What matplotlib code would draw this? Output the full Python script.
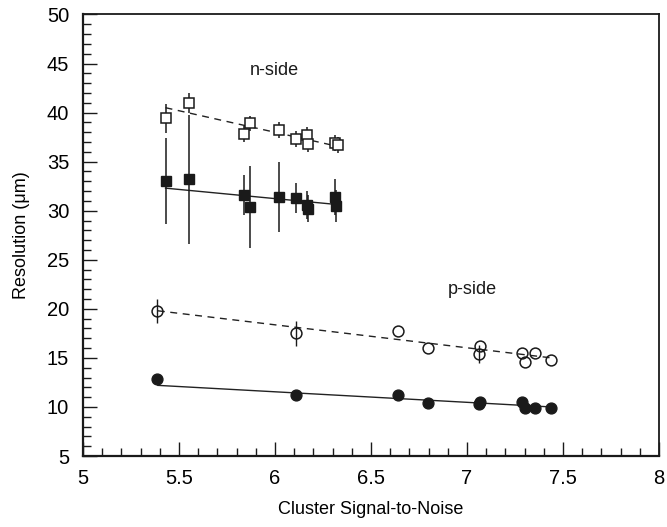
# Resolution vs cluster signal-to-noise, n-side and p-side
import matplotlib.pyplot as plt
from matplotlib.ticker import MultipleLocator

plt.rcParams['font.family'] = ['Liberation Sans', 'DejaVu Sans']

# n-side, open squares
n_open_x = [5.43, 5.55, 5.87, 5.84, 6.02, 6.11, 6.165, 6.17, 6.315, 6.33]
n_open_y = [39.4, 41.0, 38.9, 37.8, 38.2, 37.3, 37.7, 36.8, 36.9, 36.7]
n_open_err = [1.5, 1.0, 0.8, 0.8, 0.8, 0.8, 0.8, 0.8, 0.8, 0.8]

# n-side, filled squares
n_full_x = [5.43, 5.55, 5.84, 5.87, 6.02, 6.11, 6.165, 6.17, 6.31, 6.32]
n_full_y = [33.0, 33.2, 31.6, 30.4, 31.4, 31.3, 30.6, 30.2, 31.4, 30.5]
n_full_err = [4.4, 6.6, 2.0, 4.2, 3.6, 1.5, 1.4, 1.4, 1.8, 1.6]

# p-side, open circles
p_open_x = [5.385, 6.107, 6.64, 6.795, 7.068, 7.06, 7.288, 7.30, 7.354, 7.437]
p_open_y = [19.8, 17.5, 17.7, 16.0, 16.2, 15.4, 15.5, 14.6, 15.5, 14.8]
p_open_err = [1.2, 1.3, 0.0, 0.0, 0.0, 0.9, 0.0, 0.0, 0.0, 0.0]

# p-side, filled circles
p_full_x = [5.385, 6.107, 6.64, 6.795, 7.063, 7.068, 7.285, 7.30, 7.354, 7.437]
p_full_y = [12.85, 11.2, 11.2, 10.4, 10.3, 10.5, 10.5, 9.85, 9.85, 9.9]

# linear fits (end points)
fit_n_x = [5.43, 6.34]
fit_n_open = [40.5, 36.5]
fit_n_full = [32.3, 30.6]
fit_p_x = [5.39, 7.44]
fit_p_open = [19.8, 15.0]
fit_p_full = [12.2, 10.0]

fig = plt.figure(figsize=(6.67, 5.27), dpi=100)
ax = fig.add_axes([0.1244, 0.1347, 0.8636, 0.8378])

# fit lines
ax.plot(fit_n_x, fit_n_open, color='#222222', lw=1.0, ls=(0, (5, 4)))
ax.plot(fit_n_x, fit_n_full, color='#222222', lw=1.0)
ax.plot(fit_p_x, fit_p_open, color='#222222', lw=1.0, ls=(0, (5, 4)))
ax.plot(fit_p_x, fit_p_full, color='#222222', lw=1.0)

# data with error bars
ax.errorbar(n_full_x, n_full_y, yerr=n_full_err, fmt='s', ms=7.8, mfc='#1a1a1a', mec='#1a1a1a',
            ecolor='#1a1a1a', elinewidth=1.1, capsize=0, zorder=3)
ax.errorbar(n_open_x, n_open_y, yerr=n_open_err, fmt='s', ms=7.8, mfc='white', mec='#1a1a1a', mew=1.1,
            ecolor='#1a1a1a', elinewidth=1.1, capsize=0, zorder=4)
ax.errorbar(p_open_x, p_open_y, yerr=p_open_err, fmt='o', ms=7.8, mfc='none', mec='#1a1a1a', mew=1.1,
            ecolor='#1a1a1a', elinewidth=1.0, capsize=0, zorder=4)
ax.plot(p_full_x, p_full_y, 'o', ms=7.8, color='#1a1a1a', zorder=3)

ax.text(5.87, 43.8, 'n-side', fontsize=13, color='#1a1a1a', va='baseline')
ax.text(6.90, 21.5, 'p-side', fontsize=13, color='#1a1a1a', va='baseline')

ax.set_xlim(5, 8)
ax.set_ylim(5, 50)
ax.xaxis.set_major_locator(MultipleLocator(0.5))
ax.xaxis.set_minor_locator(MultipleLocator(0.1))
ax.yaxis.set_major_locator(MultipleLocator(5))
ax.yaxis.set_minor_locator(MultipleLocator(1))
ax.xaxis.set_major_formatter(plt.FuncFormatter(lambda v, p: ('%g' % v)))
ax.tick_params(which='both', direction='in', top=False, right=False, color='#1a1a1a')
ax.tick_params(which='major', length=10, width=1.0, labelsize=14.5, pad=9)
ax.tick_params(which='minor', length=5.5, width=1.0)
ax.tick_params(axis='y', which='major', pad=10)

for side in ['left', 'bottom']:
    ax.spines[side].set_linewidth(1.6)
for side in ['top', 'right']:
    ax.spines[side].set_linewidth(1.3)
for sp in ax.spines.values():
    sp.set_color('#1a1a1a')

ax.set_xlabel('Cluster Signal-to-Noise', fontsize=13, labelpad=10)
ax.set_ylabel('Resolution (μm)', fontsize=13, labelpad=12)

fig.savefig('out.png', dpi=100)
